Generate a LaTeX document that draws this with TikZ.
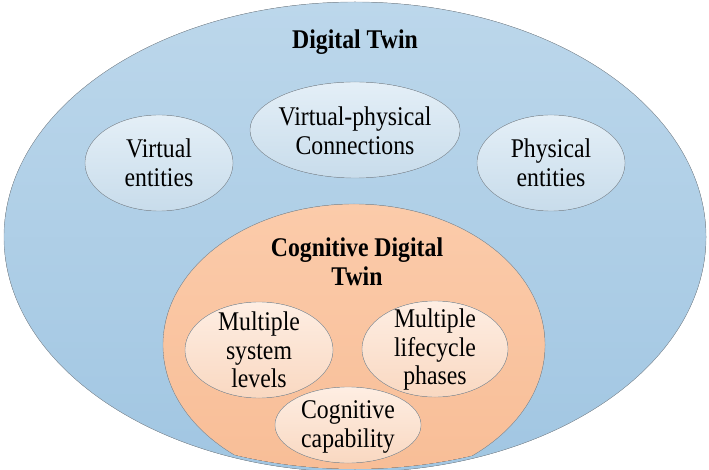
\documentclass[tikz,border=0pt]{standalone}
\usepackage{fontspec}
\setmainfont{Liberation Serif}[FakeStretch=0.88]
\usepackage{tikz}
\definecolor{skytop}{HTML}{BCD7EB}
\definecolor{skybot}{HTML}{A1C6E2}
\definecolor{paletop}{HTML}{E4EFF7}
\definecolor{palebot}{HTML}{C8DCEB}
\definecolor{peachtop}{HTML}{FBCBAA}
\definecolor{peachbot}{HTML}{F8BD96}
\definecolor{creamtop}{HTML}{FEEEE3}
\definecolor{creambot}{HTML}{F9D8C1}
\definecolor{rim}{HTML}{8E9AA4}

\begin{document}
\begin{tikzpicture}[x=1pt,y=-1pt,
    txt/.style={align=center,font=\fontsize{27}{28.5}\selectfont},
    ttl/.style={align=center,font=\fontsize{27}{28.5}\selectfont\bfseries}]
      \useasboundingbox (0,0) rectangle (709,470);
      \fill[top color=skytop, bottom color=skybot, draw=rim] (355,237) ellipse [x radius=351pt, y radius=235pt];
      \fill[top color=paletop, bottom color=palebot, draw=rim] (159,163) ellipse [x radius=74pt, y radius=48pt];
      \fill[top color=paletop, bottom color=palebot, draw=rim] (355,130) ellipse [x radius=105pt, y radius=48pt];
      \fill[top color=paletop, bottom color=palebot, draw=rim] (551,163) ellipse [x radius=74pt, y radius=48pt];
      \begin{scope}
        \clip (355,237) ellipse [x radius=350pt, y radius=232pt];
        \fill[top color=peachtop, bottom color=peachbot, draw=rim] (354,345) ellipse [x radius=191pt, y radius=141pt];
      \end{scope}
      \fill[top color=creamtop, bottom color=creambot, draw=rim] (259,350) ellipse [x radius=74pt, y radius=48pt];
      \fill[top color=creamtop, bottom color=creambot, draw=rim] (435,349) ellipse [x radius=73pt, y radius=48pt];
      \fill[top color=creamtop, bottom color=creambot, draw=rim] (348,425) ellipse [x radius=73pt, y radius=38pt];
      \node[ttl] (dtwin) at (355,42) {Digital Twin};
      \node[txt] (vent) at (159,163) {Virtual\\entities};
      \node[txt] (vpcon) at (355,131) {Virtual-physical\\Connections};
      \node[txt] (pent) at (551,163) {Physical\\entities};
      \node[ttl] (cdtwin) at (357,262) {Cognitive Digital\\Twin};
      \node[txt] (syslev) at (259,350) {Multiple\\system\\levels};
      \node[txt] (lifeph) at (435,350) {Multiple\\lifecycle\\phases};
      \node[txt] (cogcap) at (348,427) {Cognitive\\capability};
    \end{tikzpicture}
\end{document}
